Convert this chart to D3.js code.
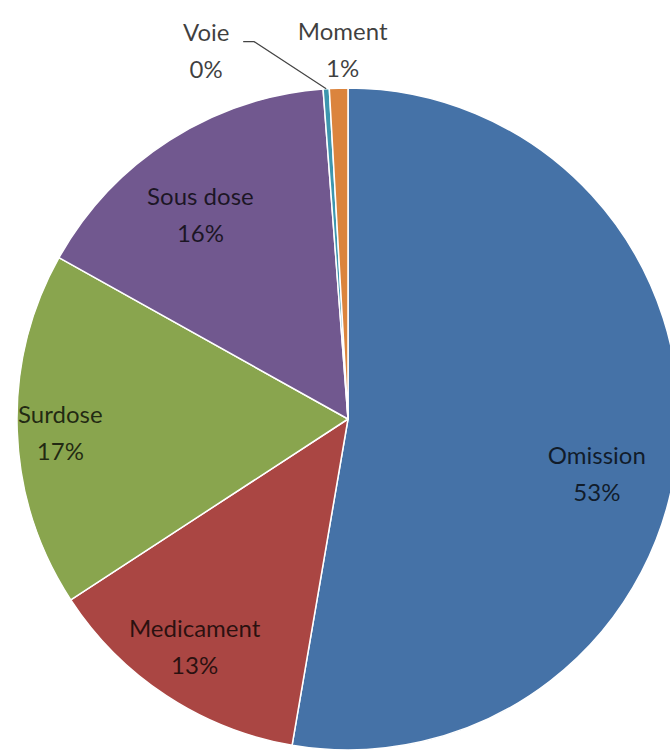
<!DOCTYPE html>
<html>
<head>
<meta charset="utf-8">
<script src="https://cdn.jsdelivr.net/npm/d3@7"></script>
<style>
  body { margin: 0; background: #fff; }
  text { font-family: Lato, "Open Sans", sans-serif; }
</style>
</head>
<body>
<div id="chart"></div>
<script>
// data (percent of errors)
var categories = ["Omission", "Medicament", "Surdose", "Sous dose", "Voie", "Moment"];
var values = [52.7, 13.1, 17.3, 15.7, 0.3, 0.9];
var shownPct = ["53%", "13%", "17%", "16%", "0%", "1%"];
var colors = ["#4572A7", "#AA4643", "#89A54E", "#71588F", "#3D96AE", "#DB843D"];

// label nudges (layout only)
var nudge = {
  "Omission":   [-15, 25],
  "Medicament": [-8, -1],
  "Surdose":    [-23, -3],
  "Sous dose":  [-5, 11],
  "Voie":       [-120, -46],
  "Moment":     [4, -46]
};
var outside = ["Voie", "Moment"];

var width = 670, height = 751,
    cx = 348, cy = 419, radius = 331;

var data = categories.map(function(c, i) {
  return {name: c, value: values[i], pct: shownPct[i], color: colors[i]};
});

var svg = d3.select("#chart").append("svg")
    .attr("width", width)
    .attr("height", height);

var g = svg.append("g")
    .attr("transform", "translate(" + cx + "," + cy + ")");

var pie = d3.pie()
    .sort(null)
    .value(function(d) { return d.value; });

var arc = d3.arc().innerRadius(0).outerRadius(radius);
var labelArc = d3.arc().innerRadius(radius * 0.8).outerRadius(radius * 0.8);

var arcs = pie(data);

g.selectAll("path.slice")
    .data(arcs)
    .enter().append("path")
    .attr("class", "slice")
    .attr("d", arc)
    .attr("fill", function(d) { return d.data.color; })
    .attr("stroke", "#fff")
    .attr("stroke-width", 1.5)
    .attr("stroke-linejoin", "round");

// point on the rim at the middle of a slice
function rim(d) {
  var a = (d.startAngle + d.endAngle) / 2;
  return [radius * Math.sin(a), -radius * Math.cos(a)];
}

// leader line for Voie
arcs.filter(function(d) { return d.data.name == "Voie"; }).forEach(function(d) {
  var p = rim(d);
  var elbow = [p[0] - 72, p[1] - 47];
  var end = [elbow[0] - 11, elbow[1]];
  g.append("polyline")
      .attr("points", [p, elbow, end].map(function(q) { return q.join(","); }).join(" "))
      .attr("fill", "none")
      .attr("stroke", "#444")
      .attr("stroke-width", 1.2);
});

var labels = g.selectAll("g.label")
    .data(arcs)
    .enter().append("g")
    .attr("class", "label")
    .attr("transform", function(d) {
      var n = nudge[d.data.name];
      var p = outside.indexOf(d.data.name) >= 0 ? rim(d) : labelArc.centroid(d);
      return "translate(" + (p[0] + n[0]) + "," + (p[1] + n[1]) + ")";
    });

labels.append("text")
    .attr("text-anchor", "middle")
    .attr("y", -2)
    .attr("font-size", 24)
    .attr("fill", "#000")
    .attr("fill-opacity", 0.75)
    .text(function(d) { return d.data.name; });

labels.append("text")
    .attr("text-anchor", "middle")
    .attr("y", 35)
    .attr("font-size", 24)
    .attr("fill", "#000")
    .attr("fill-opacity", 0.75)
    .text(function(d) { return d.data.pct; });
</script>
</body>
</html>
